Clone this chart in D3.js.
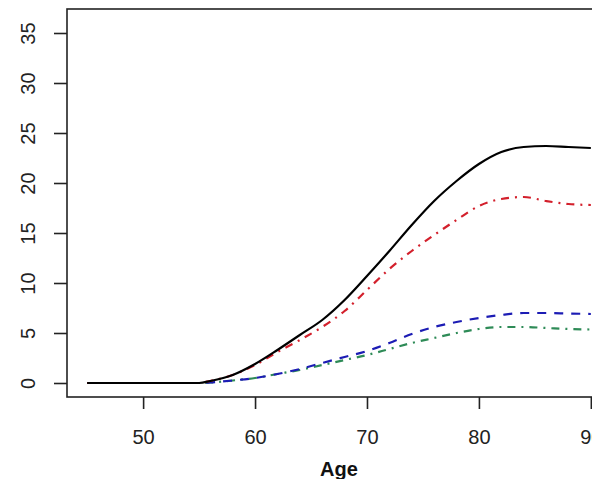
<!DOCTYPE html>
<html>
<head>
<meta charset="utf-8">
<script src="https://cdn.jsdelivr.net/npm/d3@7"></script>
<style>
  body { margin: 0; background: #fff; overflow: hidden; }
  svg { display: block; font-family: "Liberation Sans", Arial, sans-serif; }
</style>
</head>
<body>
<div id="chart"></div>
<script>
const ages = [45, 50, 55, 56, 58, 60, 62, 64, 66, 68, 70, 72, 74, 76, 78, 80, 82, 84, 86, 88, 90];

// Series values (percent)
const totalVals = [0, 0, 0, 0.2, 0.8, 1.9, 3.3, 4.8, 6.3, 8.3, 10.7, 13.2, 15.8, 18.2, 20.2, 21.9, 23.1, 23.6, 23.7, 23.6, 23.5];
const redVals   = [0, 0, 0, 0.2, 0.8, 1.8, 3.1, 4.3, 5.6, 7.2, 9.3, 11.4, 13.2, 14.8, 16.3, 17.7, 18.4, 18.6, 18.2, 17.9, 17.8];
const blueVals  = [0, 0, 0, 0.05, 0.25, 0.5, 0.9, 1.4, 2.0, 2.6, 3.2, 4.0, 4.9, 5.6, 6.1, 6.5, 6.8, 7.0, 7.0, 6.95, 6.9];
const greenVals = [0, 0, 0, 0.05, 0.25, 0.5, 0.9, 1.3, 1.8, 2.3, 2.8, 3.4, 4.0, 4.5, 5.0, 5.4, 5.6, 5.6, 5.5, 5.4, 5.35];

const xTicks = [50, 60, 70, 80, 90];
const yTicks = [0, 5, 10, 15, 20, 25, 30, 35];

const width = 592, height = 479;
const plotLeft = 67, plotTop = 9, plotRight = 611, plotBottom = 397;

const svg = d3.select('#chart').append('svg')
    .attr('width', width)
    .attr('height', height);

// R style: 4% padding around data range
const x = d3.scaleLinear().domain([43.2, 91.8]).range([plotLeft, plotRight]);
const y = d3.scaleLinear().domain([-1.4, 37.4]).range([plotBottom, plotTop]);

const line = d3.line()
    .x(d => x(d[0]))
    .y(d => y(d[1]))
    .curve(d3.curveMonotoneX);

const series = [
    { vals: totalVals, color: '#000000', dash: null },
    { vals: redVals,   color: '#d3202c', dash: '2,6,8,6' },
    { vals: blueVals,  color: '#1c1cb4', dash: '9,8' },
    { vals: greenVals, color: '#2e8b57', dash: '2,6,8,6' }
];

const plot = svg.append('g');

// draw back to front so black sits on top
series.slice().reverse().forEach(s => {
    plot.append('path')
        .datum(ages.map((a, i) => [a, s.vals[i]]))
        .attr('fill', 'none')
        .attr('stroke', s.color)
        .attr('stroke-width', 2.2)
        .attr('stroke-dasharray', s.dash)
        .attr('d', line);
});

// box
svg.append('rect')
    .attr('x', plotLeft).attr('y', plotTop)
    .attr('width', plotRight - plotLeft).attr('height', plotBottom - plotTop)
    .attr('fill', 'none')
    .attr('stroke', '#222')
    .attr('stroke-width', 1.6);

// x axis
const xAxis = svg.append('g').attr('transform', `translate(0,${plotBottom})`)
    .call(d3.axisBottom(x).tickValues(xTicks).tickSize(12).tickPadding(21).tickFormat(d3.format('d')));
xAxis.select('.domain').remove();
xAxis.selectAll('line').attr('stroke', '#222').attr('stroke-width', 1.6);
xAxis.selectAll('text')
    .attr('font-size', 20)
    .attr('fill', '#222')
    .attr('font-family', '"Liberation Sans", Arial, sans-serif');

// y axis with rotated labels
const yAxis = svg.append('g').attr('transform', `translate(${plotLeft},0)`)
    .call(d3.axisLeft(y).tickValues(yTicks).tickSize(13).tickFormat(d3.format('d')));
yAxis.select('.domain').remove();
yAxis.selectAll('line').attr('stroke', '#222').attr('stroke-width', 1.6);
yAxis.selectAll('text').remove();
yAxis.selectAll('.tick').append('text')
    .attr('transform', 'translate(-32,0) rotate(-90)')
    .attr('text-anchor', 'middle')
    .attr('font-size', 20)
    .attr('fill', '#222')
    .attr('font-family', '"Liberation Sans", Arial, sans-serif')
    .text(d => d);

// axis title
svg.append('text')
    .attr('x', (plotLeft + plotRight) / 2)
    .attr('y', 476)
    .attr('text-anchor', 'middle')
    .attr('font-size', 20)
    .attr('font-weight', 'bold')
    .attr('fill', '#111')
    .text('Age');
</script>
</body>
</html>
